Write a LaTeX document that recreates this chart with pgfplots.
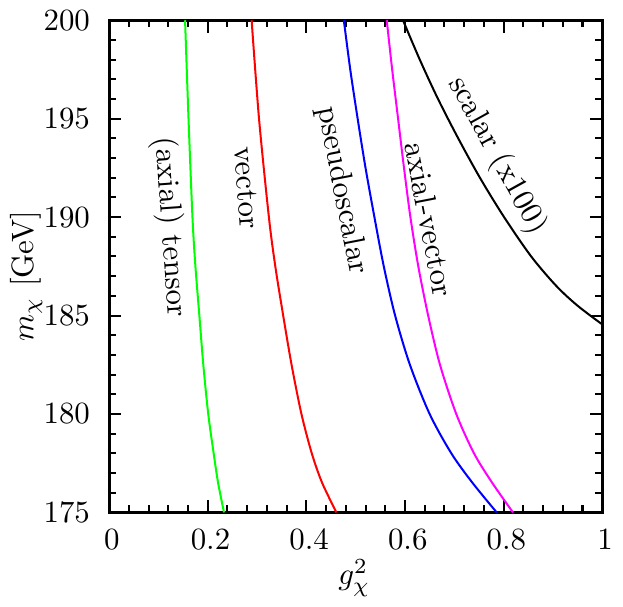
\documentclass[border=0pt]{standalone}
\usepackage{pgfplots}
\pgfplotsset{compat=1.18}
\definecolor{puremagenta}{rgb}{1,0,1}

\begin{document}
\begin{tikzpicture}
\begin{axis}[
    scale only axis,
    width=159.7pt, height=159.4pt,
    xmin=0, xmax=1, ymin=175, ymax=200,
    xtick={0,0.2,0.4,0.6,0.8,1}, minor x tick num=4,
    ytick={175,180,185,190,195,200}, minor y tick num=4,
    major tick length=4pt, minor tick length=2.3pt,
    every tick/.style={black, line width=0.65pt},
    axis line style={line width=0.95pt},
    xticklabel style={yshift=-2pt, xshift=0.9pt},
    yticklabel style={xshift=-2.7pt},
    xlabel={$g_\chi^2$},
    ylabel={$m_\chi$ [GeV]},
    xlabel style={at={(axis description cs:0.497,-0.133)}, anchor=center},
    ylabel style={at={(axis description cs:-0.168,0.48)}, anchor=center},
    every axis plot/.append style={line width=0.65pt, smooth},
]
% (axial) tensor
\addplot[green] coordinates {
    (0.154,200) (0.161,195) (0.169,190) (0.175,187.5) (0.183,185)
    (0.191,182.5) (0.201,180) (0.212,178) (0.221,176.5) (0.233,175)};
% vector
\addplot[red] coordinates {
    (0.289,200) (0.304,195) (0.324,190) (0.337,187.5) (0.353,185)
    (0.370,182.5) (0.390,180) (0.411,178) (0.432,176.5) (0.461,175)};
% pseudoscalar
\addplot[blue] coordinates {
    (0.476,200) (0.489,197.5) (0.504,195) (0.520,192.5) (0.538,190)
    (0.557,187.5) (0.580,185) (0.610,182.5) (0.650,180) (0.694,178)
    (0.737,176.5) (0.786,175)};
% axial-vector
\addplot[puremagenta] coordinates {
    (0.563,200) (0.574,197.5) (0.586,195) (0.598,192.5) (0.611,190)
    (0.627,187.5) (0.647,185) (0.671,182.5) (0.704,180) (0.740,178)
    (0.777,176.5) (0.819,175)};
% scalar (x100)
\addplot[black] coordinates {
    (0.596,200) (0.630,198) (0.667,196) (0.708,194) (0.752,192)
    (0.801,190) (0.856,188) (0.907,186.5) (0.950,185.5) (1.0,184.55)};

\node[rotate=-86] at (axis cs:0.123,189.49) {(axial) tensor};
\node[rotate=-86] at (axis cs:0.2795,191.49) {vector};
\node[rotate=-79] at (axis cs:0.472,191.36) {pseudoscalar};
\node[rotate=-79] at (axis cs:0.650,189.89) {axial-vector};
\node[rotate=-61] at (axis cs:0.787,193.12) {scalar (x100)};
\end{axis}
\path ([shift={(-32.2pt,-26.6pt)}]current axis.south west)
    rectangle ([shift={(2.8pt,4.1pt)}]current axis.north east);
\end{tikzpicture}
\end{document}
